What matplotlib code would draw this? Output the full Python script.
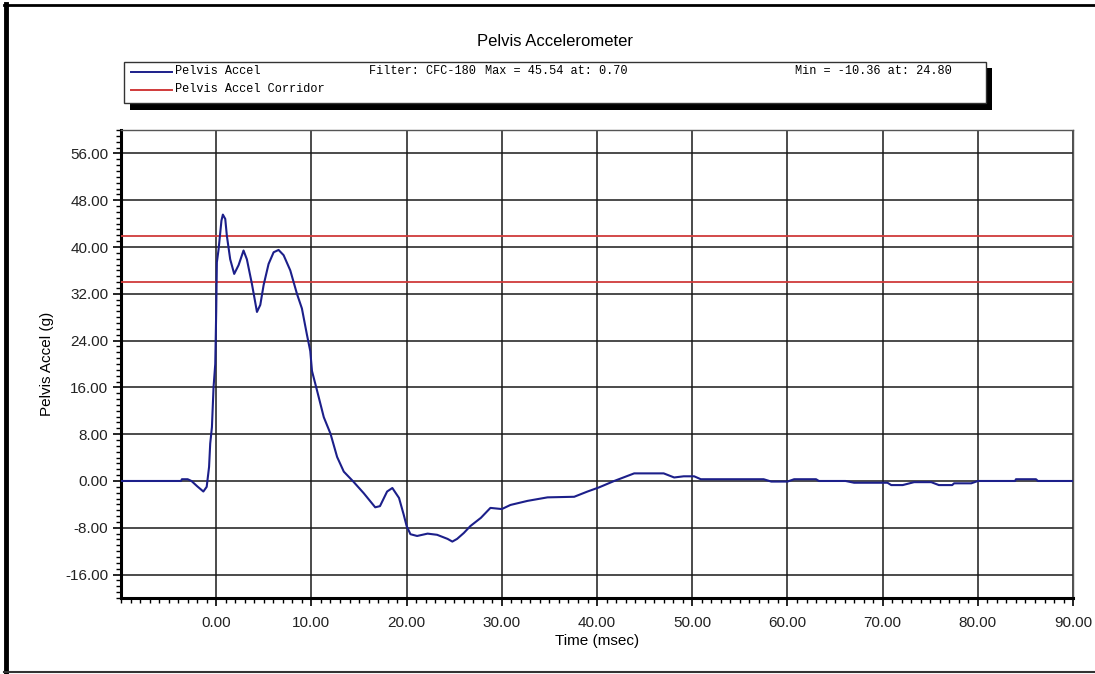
import matplotlib
matplotlib.use("Agg")
import matplotlib.pyplot as plt
from matplotlib.lines import Line2D
from matplotlib.patches import Rectangle
from matplotlib.ticker import MultipleLocator, FormatStrFormatter

time_ms = [-10, -3.7, -3.6, -3.0, -2.6, -2.0, -1.35, -1.0, -0.75, -0.63, -0.45, -0.28,
           -0.1, 0.0, 0.07, 0.25, 0.55, 0.7, 0.95, 1.12, 1.47, 1.89, 2.35, 2.87, 3.22,
           3.75, 4.28, 4.63, 4.98, 5.5, 6.03, 6.55, 7.08, 7.78, 8.48, 9.0, 9.53, 9.88,
           10.06, 10.6, 11.3, 12.0, 12.7, 13.4, 14.4, 15.5, 16.7, 17.2, 17.95, 18.5,
           19.2, 19.7, 20.0, 20.4, 21.1, 22.2, 23.2, 24.3, 24.8, 25.3, 26.0, 26.7, 27.8,
           28.8, 30.0, 30.9, 32.7, 34.8, 37.6, 39.0, 40.2, 41.8, 43.9, 47.0, 48.1, 49.1,
           50.2, 50.9, 57.5, 58.3, 60.0, 60.7, 63.0, 63.3, 66.1, 67.0, 70.5, 70.9, 72.1,
           73.3, 75.1, 75.9, 77.3, 77.5, 79.3, 80.0, 83.9, 84.0, 86.1, 86.3, 90]
accel_g = [0, 0, 0.3, 0.3, 0.0, -0.9, -1.8, -1.0, 2.4, 6.4, 9.2, 16.0,
           20.0, 29.0, 37.4, 39.6, 44.5, 45.54, 44.8, 41.9, 37.9, 35.4, 36.9, 39.4, 37.9,
           33.7, 28.9, 30.1, 33.5, 37.1, 39.1, 39.5, 38.6, 36.0, 32.0, 29.5, 25.0, 22.2,
           18.8, 15.4, 10.9, 8.1, 4.1, 1.6, -0.1, -2.1, -4.5, -4.3, -1.8, -1.2,
           -2.9, -5.8, -7.7, -9.1, -9.4, -9.0, -9.2, -9.9, -10.36, -9.9, -8.9, -7.7, -6.3,
           -4.6, -4.8, -4.1, -3.4, -2.8, -2.7, -1.8, -1.1, 0.0, 1.3, 1.3, 0.6, 0.8,
           0.8, 0.3, 0.3, -0.1, -0.1, 0.3, 0.3, 0.0, 0.0, -0.3, -0.3, -0.7, -0.7,
           -0.2, -0.2, -0.7, -0.7, -0.4, -0.4, 0.0, 0.0, 0.3, 0.3, 0.0, 0.0]

corridor_g = [34.0, 41.8]

blue = "#1c1f8a"
red = "#d03a3a"

fig = plt.figure(figsize=(10.95, 6.74), dpi=100)
ax = fig.add_axes([0.1105, 0.1128, 0.8695, 0.6943])

for c in corridor_g:
    ax.axhline(c, color=red, lw=1.3, zorder=3)
ax.plot(time_ms, accel_g, color=blue, lw=1.5, zorder=4)

ax.set_xlim(-10, 90)
ax.set_ylim(-20, 60)
ax.xaxis.set_major_locator(MultipleLocator(10))
ax.xaxis.set_minor_locator(MultipleLocator(1))
ax.yaxis.set_major_locator(MultipleLocator(8))
ax.yaxis.set_minor_locator(MultipleLocator(1))
ax.xaxis.set_major_formatter(FormatStrFormatter("%.2f"))
ax.yaxis.set_major_formatter(FormatStrFormatter("%.2f"))
ax.set_xticks([t for t in range(0, 91, 10)])
ax.set_yticks([v for v in range(-16, 57, 8)])
ax.grid(True, which="major", color="#1a1a1a", lw=1.1, zorder=1)
ax.set_axisbelow(True)

ax.tick_params(which="major", length=6, width=1.2, color="black", labelsize=11,
               labelcolor="#222222")
ax.tick_params(axis="x", which="major", pad=7)
ax.tick_params(axis="y", which="major", pad=3)
ax.tick_params(which="minor", length=3.5, width=1.0, color="black")
for lab in ax.get_xticklabels() + ax.get_yticklabels():
    lab.set_family("Liberation Sans")

ax.spines["left"].set_linewidth(2.2)
ax.spines["bottom"].set_linewidth(2.2)
ax.spines["top"].set_color("#555555")
ax.spines["right"].set_color("#555555")
ax.spines["top"].set_linewidth(1.0)
ax.spines["right"].set_linewidth(1.0)

ax.set_xlabel("Time (msec)", family="Liberation Sans", fontsize=11, labelpad=3)
ax.set_ylabel("Pelvis Accel (g)", family="Liberation Sans", fontsize=11, labelpad=8)

fig.text(555 / 1095, 1 - 41 / 674, "Pelvis Accelerometer", family="Liberation Sans",
         fontsize=12, ha="center", va="center")

# legend box with drop shadow
W, H = 1095.0, 674.0
def fx(px):
    return px / W
def fy(py):
    return 1 - py / H

fig.patches.append(Rectangle((fx(130), fy(110)), fx(992) - fx(130), fy(68) - fy(110),
                             transform=fig.transFigure, facecolor="black", edgecolor="none"))
fig.patches.append(Rectangle((fx(124), fy(103)), fx(986) - fx(124), fy(62) - fy(103),
                             transform=fig.transFigure, facecolor="white", edgecolor="#333333",
                             lw=1.0))
fig.lines.append(Line2D([fx(131), fx(172)], [fy(72), fy(72)], transform=fig.transFigure,
                        color=blue, lw=1.4))
fig.lines.append(Line2D([fx(131), fx(172)], [fy(90), fy(90)], transform=fig.transFigure,
                        color=red, lw=1.4))
mono = dict(family="Liberation Mono", fontsize=8.6, va="center", ha="left", color="black")
fig.text(fx(175), fy(71), "Pelvis Accel", **mono)
fig.text(fx(175), fy(89), "Pelvis Accel Corridor", **mono)
fig.text(fx(369), fy(71), "Filter: CFC-180", **mono)
fig.text(fx(485), fy(71), "Max = 45.54 at: 0.70", **mono)
fig.text(fx(795), fy(71), "Min = -10.36 at: 24.80", **mono)

# outer frame
fig.lines.append(Line2D([fx(6), fx(6)], [fy(4), fy(672)], transform=fig.transFigure,
                        color="black", lw=3.5))
fig.lines.append(Line2D([fx(4), fx(1095)], [fy(4.5), fy(4.5)], transform=fig.transFigure,
                        color="black", lw=2))
fig.lines.append(Line2D([fx(4), fx(1095)], [fy(672), fy(672)], transform=fig.transFigure,
                        color="#333333", lw=1.5))

fig.savefig("out.png", dpi=100)
